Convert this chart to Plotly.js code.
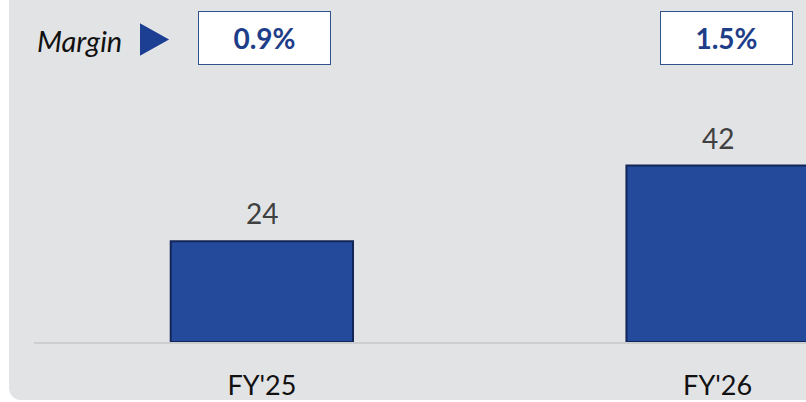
<!DOCTYPE html>
<html>
<head>
<meta charset="utf-8">
<script src="https://cdn.plot.ly/plotly-3.0.1.min.js"></script>
<style>
  html, body { margin:0; padding:0; background:#ffffff; width:806px; height:402px; overflow:hidden; }
  #panel { position:absolute; left:9px; top:-20px; width:820px; height:420px; background:#e2e3e5; border-radius:12px; }
  #chart { position:absolute; left:0; top:0; width:806px; height:402px; }
</style>
</head>
<body>
<div id="panel"></div>
<div id="chart"></div>
<script>
// ---- data ----
const categories = ["FY'25", "FY'26"];
const values = [24, 42];
const marginLabels = ["0.9%", "1.5%"];
const marginTitle = "Margin";

const FONT = "Lato, 'Open Sans', sans-serif";
const boxShift = [3, 9];

const annotations = [];
values.forEach((v, i) => {
  annotations.push({
    x: categories[i], y: v, xref: 'x', yref: 'y',
    text: String(v), showarrow: false, yanchor: 'middle', yshift: 28,
    font: {family: FONT, size: 28, color: '#404040'}
  });
  annotations.push({
    x: categories[i], y: 0.8889, xref: 'x', yref: 'paper',
    text: '<b>' + marginLabels[i] + '</b>', showarrow: false,
    xanchor: 'center', yanchor: 'middle', xshift: boxShift[i],
    width: 131, height: 52, borderpad: 0, borderwidth: 1,
    bordercolor: '#2f528f', bgcolor: '#ffffff',
    font: {family: FONT, size: 28, color: '#1f3e8a'}
  });
});
annotations.push({
  x: (79 - 34) / 772, y: (342 - 40) / 342, xref: 'paper', yref: 'paper',
  text: '<i>' + marginTitle + '</i>', showarrow: false,
  xanchor: 'center', yanchor: 'middle',
  font: {family: FONT, size: 29, color: '#111111'}
});

const px = x => (x - 34) / 772;
const py = y => (342 - y) / 342;
const tri = `M ${px(141)} ${py(25)} L ${px(141)} ${py(54)} L ${px(167)} ${py(39.5)} Z`;

const trace = {
  type: 'bar', x: categories, y: values, width: 0.4,
  marker: {color: '#234a9b', line: {color: '#132657', width: 2}},
  hoverinfo: 'skip', cliponaxis: true
};

const layout = {
  width: 806, height: 402,
  margin: {l: 34, r: 0, t: 0, b: 60, pad: 0},
  paper_bgcolor: 'rgba(0,0,0,0)', plot_bgcolor: 'rgba(0,0,0,0)',
  showlegend: false,
  xaxis: {
    type: 'category', range: [-0.5, 1.194], showgrid: false, zeroline: false,
    showline: true, linecolor: '#cdced0', linewidth: 1.5,
    ticks: '', ticklabelstandoff: 19,
    tickfont: {family: FONT, size: 27, color: '#111111'}
  },
  yaxis: {
    range: [0, 342 / 4.2], visible: false, showgrid: false, zeroline: false
  },
  annotations: annotations,
  shapes: [{
    type: 'path', xref: 'paper', yref: 'paper', path: tri,
    fillcolor: '#1c3f93', line: {color: '#1c3f93', width: 2, }
  }]
};

Plotly.newPlot('chart', [trace], layout, {staticPlot: true, displayModeBar: false});
</script>
</body>
</html>
